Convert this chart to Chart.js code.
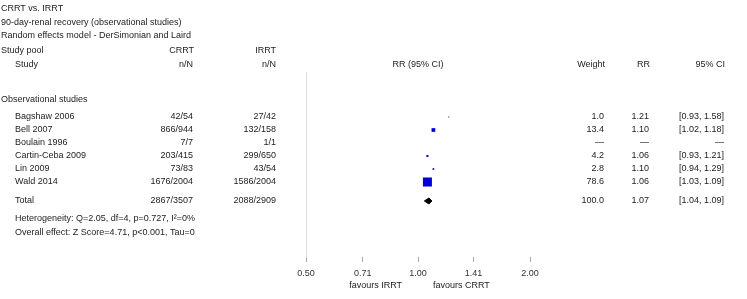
<!DOCTYPE html>
<html>
<head>
<meta charset="utf-8">
<script src="https://cdn.jsdelivr.net/npm/chart.js@4/dist/chart.umd.min.js"></script>
<style>
  html, body { margin: 0; padding: 0; background: #fff; }
  #wrap { width: 747px; height: 299px; }
</style>
</head>
<body>
<div id="wrap"><canvas id="forest" width="747" height="299"></canvas></div>
<script>
// forest plot data
const titleLines = ['CRRT vs. IRRT', '90-day-renal recovery (observational studies)', 'Random effects model - DerSimonian and Laird'];
const groupName = 'Observational studies';
const studies = ['Bagshaw 2006', 'Bell 2007', 'Boulain 1996', 'Cartin-Ceba 2009', 'Lin 2009', 'Wald 2014'];
const crrtCounts = ['42/54', '866/944', '7/7', '203/415', '73/83', '1676/2004'];
const irrtCounts = ['27/42', '132/158', '1/1', '299/650', '43/54', '1586/2004'];
const weights = [1.0, 13.4, null, 4.2, 2.8, 78.6];
const rrValues = [1.21, 1.10, null, 1.06, 1.10, 1.06];
const ciLow = [0.93, 1.02, null, 0.93, 0.94, 1.03];
const ciHigh = [1.58, 1.18, null, 1.21, 1.29, 1.09];
const totalCounts = ['2867/3507', '2088/2909'];
const totalWeight = 100.0;
const totalRR = 1.07;
const totalCI = [1.04, 1.09];
const footLines = ['Heterogeneity: Q=2.05, df=4, p=0.727, I\u00B2=0%', 'Overall effect: Z Score=4.71, p<0.001, Tau=0'];
const tickValues = [0.5, 0.71, 1, 1.41, 2];
const tickLabels = ['0.50', '0.71', '1.00', '1.41', '2.00'];

const FONT = '9px "Liberation Sans", Arial, sans-serif';
const TXT = '#1c1c1c';
const totalRow = 7.46;

// study rows are 1..6 on the y scale
const studyPoints = [];
const studyRadius = [];
studies.forEach((s, i) => {
  if (rrValues[i] == null) return;
  studyPoints.push({ x: rrValues[i], y: i + 1 });
  studyRadius.push(0.72 * Math.sqrt(weights[i]));
});

const dh = 0.23;
const diamond = [
  { x: totalCI[0], y: totalRow },
  { x: totalRR, y: totalRow - dh },
  { x: totalCI[1], y: totalRow },
  { x: totalRR, y: totalRow + dh },
  { x: totalCI[0], y: totalRow }
];

const fmtCI = (lo, hi) => '[' + lo.toFixed(2) + ', ' + hi.toFixed(2) + ']';

const tablePlugin = {
  id: 'tableText',
  afterDraw(chart) {
    const ctx = chart.ctx;
    const ys = chart.scales.y;
    const xs = chart.scales.x;
    ctx.save();
    ctx.font = FONT;
    ctx.fillStyle = TXT;
    ctx.textBaseline = 'middle';

    const put = (t, x, y, align) => { ctx.textAlign = align || 'left'; ctx.fillText(t, x, y); };

    titleLines.forEach((t, i) => put(t, 1, 9 + i * 13.5));
    put('Study pool', 1, 51);
    put('CRRT', 194, 51, 'right');
    put('IRRT', 276, 51, 'right');
    put('Study', 15, 65);
    put('n/N', 193, 65, 'right');
    put('n/N', 276, 65, 'right');
    put('RR (95% CI)', xs.getPixelForValue(1), 65, 'center');
    put('Weight', 605, 65, 'right');
    put('RR', 650, 65, 'right');
    put('95% CI', 725, 65, 'right');

    put(groupName, 1, 100);

    studies.forEach((s, i) => {
      const y = ys.getPixelForValue(i + 1);
      put(s, 15, y);
      put(crrtCounts[i], 193, y, 'right');
      put(irrtCounts[i], 276, y, 'right');
      if (rrValues[i] == null) {
        put('\u2014', 604, y, 'right');
        put('\u2014', 649, y, 'right');
        put('\u2014', 724, y, 'right');
      } else {
        put(weights[i].toFixed(1), 604, y, 'right');
        put(rrValues[i].toFixed(2), 649, y, 'right');
        put(fmtCI(ciLow[i], ciHigh[i]), 724, y, 'right');
      }
    });

    const ty = ys.getPixelForValue(totalRow);
    put('Total', 15, ty);
    put(totalCounts[0], 193, ty, 'right');
    put(totalCounts[1], 276, ty, 'right');
    put(totalWeight.toFixed(1), 604, ty, 'right');
    put(totalRR.toFixed(2), 649, ty, 'right');
    put(fmtCI(totalCI[0], totalCI[1]), 724, ty, 'right');

    put(footLines[0], 15, 219);
    put(footLines[1], 15, 233);

    const x1 = xs.getPixelForValue(1);
    put('favours IRRT', x1 - 16, 286, 'right');
    put('favours CRRT', x1 + 15, 286, 'left');
    ctx.restore();
  }
};

new Chart(document.getElementById('forest'), {
  type: 'scatter',
  data: {
    datasets: [
      {
        data: studyPoints,
        pointStyle: 'rect',
        pointRadius: studyRadius,
        pointBackgroundColor: '#0000dd',
        pointBorderWidth: 0,
        showLine: false
      },
      {
        data: diamond,
        showLine: true,
        borderColor: '#000',
        borderWidth: 1,
        backgroundColor: '#000',
        fill: 'shape',
        pointRadius: 0,
        tension: 0
      }
    ]
  },
  options: {
    responsive: false,
    animation: false,
    events: [],
    layout: { padding: { left: 306, right: 217, top: 72, bottom: 0 } },
    plugins: { legend: { display: false }, tooltip: { enabled: false } },
    scales: {
      x: {
        type: 'logarithmic',
        min: 0.5,
        max: 2,
        afterBuildTicks(scale) { scale.ticks = tickValues.map(v => ({ value: v })); },
        afterFit(scale) { scale.height = 42; },
        border: { display: false },
        grid: { drawOnChartArea: false, drawTicks: true, tickLength: 5, color: '#aaa' },
        ticks: {
          autoSkip: false,
          maxRotation: 0,
          padding: 6,
          color: '#333',
          font: { family: '"Liberation Sans", Arial, sans-serif', size: 9 },
          callback(v, i) { return tickLabels[i]; }
        }
      },
      y: {
        type: 'linear',
        reverse: true,
        min: -2.4615,
        max: 11.769,
        afterFit(scale) { scale.width = 0; },
        border: { display: true, color: '#dcdcdc', width: 1 },
        grid: { display: false },
        ticks: { display: false }
      }
    }
  },
  plugins: [tablePlugin]
});
</script>
</body>
</html>
